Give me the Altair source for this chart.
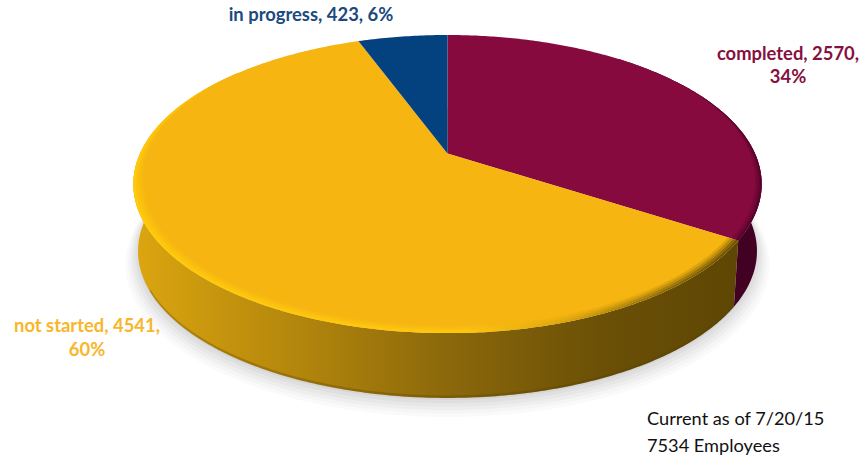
import altair as alt
import numpy as np

# Survey status counts, clockwise from twelve o'clock
categories = ["completed", "not started", "in progress"]
counts = [2570, 4541, 423]
percents = [34, 60, 6]
slice_colors = ["#870A3F", "#F6B511", "#03427F"]
label_colors = ["#861040", "#F8B62A", "#1A4A80"]
footnotes = ["Current as of 7/20/15", "7534 Employees"]

# Tilted-disc geometry, in pixels
CX, CY = 447.5, 153.5
AX, BY = 307.5, 142.8
TILT = 0.205
DEPTH_SCALE = 0.985
BASE_CY = 221.0


def project(radius, turn, base=False, grow=1.0, dy=0.0):
    """Map a disc point (radius, clockwise turn in radians) to the page."""
    x_disc = radius * np.sin(turn)
    y_disc = radius * np.cos(turn)
    w = 1 + TILT * y_disc
    scale = (DEPTH_SCALE if base else 1.0) * grow
    cy = BASE_CY if base else CY
    return (CX + scale * AX * x_disc / w, cy - scale * BY * y_disc / w + dy)


def arc_points(radius, t0, t1, **kw):
    n = max(int(abs(t1 - t0) * 90), 8)
    turns = np.linspace(t0, t1, n)
    xs, ys = project(radius, turns, **kw)
    return [[float(x), float(y)] for x, y in zip(xs, ys)]


def feature(ring, **props):
    ring = ring + [ring[0]]
    return {
        "type": "Feature",
        "geometry": {"type": "Polygon", "coordinates": [ring]},
        "properties": props,
    }


def tapered_band(w0, w1, t0, t1, fade_start=None, fade_end=None):
    """Rim strip between widths w0 and w1 in from the edge; it narrows to nothing at faded ends."""
    turns = np.linspace(t0, t1, max(int(abs(t1 - t0) * 90), 12))
    taper = np.ones_like(turns)
    if fade_end is not None:
        taper = np.minimum(taper, np.clip((t1 - turns) / fade_end, 0, 1))
    if fade_start is not None:
        taper = np.minimum(taper, np.clip((turns - t0) / fade_start, 0, 1))
    ox, oy = project(1 - w0 * taper, turns)
    ix, iy = project(1 - w1 * taper, turns)
    outer = [[float(x), float(y)] for x, y in zip(ox, oy)]
    inner = [[float(x), float(y)] for x, y in zip(ix, iy)]
    return feature(outer + inner[::-1])


def wall(t0, t1):
    return feature(arc_points(1.0, t0, t1) + arc_points(1.0, t1, t0, base=True))


def lower_lip(t0, t1, inset):
    return feature(
        arc_points(1.0, t0, t1, base=True)
        + arc_points(1.0, t1, t0, base=True, dy=-inset)
    )


# Slice boundaries follow from the counts
total = sum(counts)
edges = 2 * np.pi * np.concatenate([[0], np.cumsum(counts)]) / total
turns = list(zip(edges[:-1], edges[1:]))


def shape(features, **mark):
    return alt.Chart(alt.Data(values=features)).mark_geoshape(
        strokeWidth=0, **mark
    ).project(type="identity", scale=1, translate=[0, 0])


def h_gradient(stops):
    return alt.Gradient(
        gradient="linear",
        x1=0, x2=1, y1=0, y2=0,
        stops=[alt.GradientStop(offset=o, color=c) for o, c in stops],
    )


layers = []

# Soft drop shadow under the disc
for grow, dy, op in [(1.04, 12, 0.035), (1.032, 10, 0.04), (1.024, 8, 0.05),
                     (1.016, 6, 0.06), (1.008, 4, 0.07), (1.0, 2, 0.09)]:
    ring = arc_points(1.0, 0, 2 * np.pi, base=True, grow=grow, dy=dy)
    layers.append(shape([feature(ring)], fill="#7A7A7A", opacity=op))

# Side walls: the maroon slice first, the gold slice in front of it
layers.append(shape([wall(0.7, turns[0][1])], fill="#420022"))
layers.append(shape(
    [wall(turns[1][0], 1.72 * np.pi)],
    fill=h_gradient([
        (0.0, "#DCA610"), (0.27, "#B3860C"), (0.52, "#8B680B"),
        (0.77, "#6B5006"), (1.0, "#5E4604"),
    ]),
))
layers.append(shape([lower_lip(turns[1][0], 1.35 * np.pi, 2.5)], fill="#5A3F05", opacity=0.3))

# Top faces, each a wedge from the hub out to the rim
for (t0, t1), color, name in zip(turns, slice_colors, categories):
    hub = [[CX, CY]]
    layers.append(shape([feature(hub + arc_points(1.0, t0, t1), category=name)], fill=color))

# Bevel along the rim of the gold face, fading inward and toward the far side
rim = h_gradient([
    (0.0, "#FFCB0A"), (0.55, "#FFC810"), (0.72, "#D9A30F"),
    (0.88, "#8A6A08"), (1.0, "#6A5006"),
])
gold_start, gold_end = turns[1][0], 1.72 * np.pi
for w0, w1, op in [(0.024, 0.032, 0.2), (0.016, 0.024, 0.45), (0.008, 0.016, 0.75), (0.0, 0.008, 1.0)]:
    layers.append(shape(
        [tapered_band(w0, w1, gold_start, gold_end, fade_end=0.3 * np.pi)],
        fill=rim, opacity=op,
    ))

# Shaded edge of the maroon face
for w0, w1, op in [(0.012, 0.02, 0.25), (0.006, 0.012, 0.5), (0.0, 0.006, 0.85)]:
    layers.append(shape(
        [tapered_band(w0, w1, 0.3 * np.pi, turns[0][1], fade_start=0.25 * np.pi)],
        fill="#4D0028", opacity=op,
    ))

# Slice labels
label_font = dict(font="Lato", fontSize=18.4, fontWeight="bold", align="center", baseline="alphabetic")
label_rows = [
    (f"{categories[0]}, {counts[0]},", 788, 60, label_colors[0]),
    (f"{percents[0]}%", 788, 83, label_colors[0]),
    (f"{categories[1]}, {counts[1]},", 87, 332, label_colors[1]),
    (f"{percents[1]}%", 87, 356, label_colors[1]),
    (f"{categories[2]}, {counts[2]}, {percents[2]}%", 311, 21, label_colors[2]),
]
for text, x, y, color in label_rows:
    layers.append(
        alt.Chart(alt.Data(values=[{"label": text}]))
        .mark_text(color=color, **label_font)
        .encode(x=alt.value(x), y=alt.value(y), text="label:N")
    )

# Footnote at the lower right
for text, y in zip(footnotes, [425, 452]):
    layers.append(
        alt.Chart(alt.Data(values=[{"label": text}]))
        .mark_text(font="Lato", fontSize=18.2, color="#111111", align="left", baseline="alphabetic")
        .encode(x=alt.value(647), y=alt.value(y), text="label:N")
    )

chart = (
    alt.layer(*layers)
    .properties(width=861, height=456, padding=0, autosize=alt.AutoSizeParams(type="none"))
    .configure_view(stroke=None)
)

chart.save("out.html", embed_options={"renderer": "svg", "actions": False})
